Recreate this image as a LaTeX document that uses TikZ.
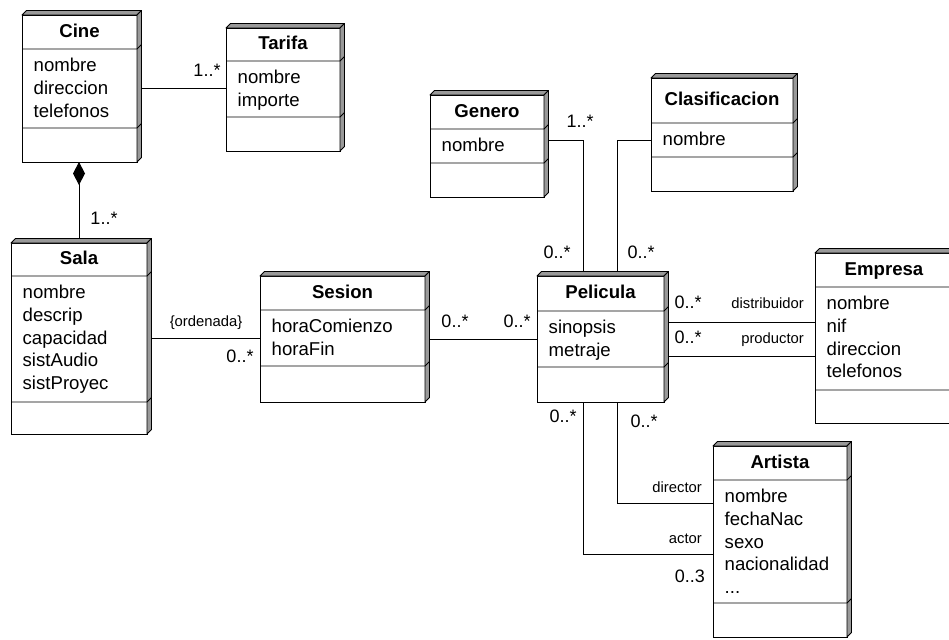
\documentclass[tikz,border=0pt]{standalone}
\usepackage{fontspec}
\setmainfont{Liberation Sans}
\usetikzlibrary{arrows.meta,calc}
\pgfdeclarelayer{links}
\pgfsetlayers{links,main}
\definecolor{sidegray}{gray}{0.6}
\newcommand\boxdepth{4.5}
\newcommand\moreattrs{...}
\tikzset{
  classbox/.style={draw=black, line width=0.9pt, fill=white, inner sep=0pt, outer sep=0pt},
  sideface/.style={draw=black, line width=0.9pt, fill=sidegray, line join=round},
  sepline/.style={draw=black, line width=0.9pt},
  titletext/.style={inner sep=0pt, font=\fontsize{18.6}{22.7}\selectfont\bfseries},
  attrtext/.style={inner sep=0pt, font=\fontsize{18.6}{22.7}\selectfont},
  mult/.style={inner sep=0pt, font=\fontsize{18}{22}\selectfont},
  role/.style={inner sep=0pt, font=\fontsize{14.8}{18}\selectfont},
  link/.style={draw=black, line width=0.9pt},
}
% UML class box with a raised right side:
% name, left, top, right, bottom, header line, attribute line, title, attributes
\newcommand\umlclass[9]{%
  \node[classbox, minimum width={(#4-#2)*1pt}, minimum height={(#5-#3)*1pt}]
    (#1) at ({(#2+#4)/2},{(#3+#5)/2}) {};
  \filldraw[sideface] (#1.north west) -- ++(\boxdepth,-\boxdepth)
    -- ([shift={(\boxdepth,-\boxdepth)}]#1.north east) -- (#1.north east) -- cycle;
  \filldraw[sideface] (#1.north east) -- ++(\boxdepth,-\boxdepth)
    -- ([shift={(\boxdepth,-\boxdepth)}]#1.south east) -- (#1.south east) -- cycle;
  \draw[sepline] (#2,#6) -- (#4,#6) -- ++(\boxdepth,-\boxdepth);
  \draw[sepline] (#2,#7) -- (#4,#7) -- ++(\boxdepth,-\boxdepth);
  \node[titletext, anchor=base] (#1-title) at ({(#2+#4)/2},{(#3+#6)/2+5.3}) {#8};
  \foreach \t [count=\i from 0] in {#9} {
    \node[attrtext, anchor=base west] (#1-a\i) at (#2+11.5, #6+22.7+\i*22.7) {\t};
  }%
}

\begin{document}
\begin{tikzpicture}[x=1pt, y=-1pt]
\useasboundingbox (0,0) rectangle (949,639);
\clip (0,0) rectangle (949,639);

% classes
\umlclass{cine}{22}{15}{137}{162}{49}{128}{Cine}{nombre,direccion,telefonos}
\umlclass{tarifa}{226}{28}{340}{151}{61}{117}{Tarifa}{nombre,importe}
\umlclass{sala}{11}{243}{147}{434}{276}{402}{Sala}{nombre,descrip,capacidad,sistAudio,sistProyec}
\umlclass{sesion}{260}{276}{425}{402}{310}{366}{Sesion}{horaComienzo,horaFin}
\umlclass{genero}{430}{95}{544}{197}{129}{163}{Genero}{nombre}
\umlclass{clasif}{651}{78}{793}{191}{123}{157}{Clasificacion}{nombre}
\umlclass{pelicula}{537}{276}{664}{402}{311}{367}{Pelicula}{sinopsis,metraje}
\umlclass{empresa}{815}{253}{953}{423}{287}{390}{Empresa}{nombre,nif,direccion,telefonos}
\umlclass{artista}{713}{446}{847}{637}{480}{603}{Artista}{nombre,fechaNac,sexo,nacionalidad,\moreattrs}

% associations
\begin{pgfonlayer}{links}
\draw[link] (cine.east) -- (cine.east -| tarifa.west);
\draw[link, -{Diamond[length=23pt,width=12pt]}] (sala.north) -- (sala.north |- cine.south);
\draw[link] (sala.east) -- (sala.east -| sesion.west);
\draw[link] (sesion.east) -- (sesion.east -| pelicula.west);
\coordinate (gbend) at (583,140);
\draw[link] (gbend -| genero.east) -- (gbend) -- (gbend |- pelicula.north);
\coordinate (cbend) at (617,140);
\draw[link] (cbend -| clasif.west) -- (cbend) -- (cbend |- pelicula.north);
\path ([yshift=17pt]pelicula.east) coordinate (distr);
\draw[link] (distr) -- (distr -| empresa.west);
\path ([yshift=-17pt]pelicula.east) coordinate (prod);
\draw[link] (prod) -- (prod -| empresa.west);
\coordinate (dbend) at (617,503);
\draw[link] (dbend |- pelicula.south) -- (dbend) -- (dbend -| artista.west);
\coordinate (abend) at (583,554);
\draw[link] (abend |- pelicula.south) -- (abend) -- (abend -| artista.west);
\end{pgfonlayer}

% multiplicities and roles
\node[mult, anchor=base] (m-ct) at (207,77) {1..*};
\node[mult, anchor=base] (m-cs) at (104,224) {1..*};
\node[role, anchor=base] (ord) at (206,326) {\{ordenada\}};
\node[mult, anchor=base] (m-ss) at (240,362) {0..*};
\node[mult, anchor=base] (m-sp1) at (455,327) {0..*};
\node[mult, anchor=base] (m-sp2) at (517,327) {0..*};
\node[mult, anchor=base] (m-g1) at (580,128) {1..*};
\node[mult, anchor=base] (m-g2) at (557,258) {0..*};
\node[mult, anchor=base] (m-c2) at (641,258) {0..*};
\node[mult, anchor=base] (m-d1) at (688,308) {0..*};
\node[role, anchor=base east] (r-distr) at (804,308) {distribuidor};
\node[mult, anchor=base] (m-p1) at (688,343) {0..*};
\node[role, anchor=base east] (r-prod) at (804,343) {productor};
\node[mult, anchor=base] (m-b1) at (563,422) {0..*};
\node[mult, anchor=base] (m-b2) at (644,427) {0..*};
\node[role, anchor=base east] (r-dir) at (702,492) {director};
\node[role, anchor=base east] (r-act) at (702,543) {actor};
\node[mult, anchor=base east] (m-a3) at (705,582) {0..3};
\end{tikzpicture}
\end{document}
